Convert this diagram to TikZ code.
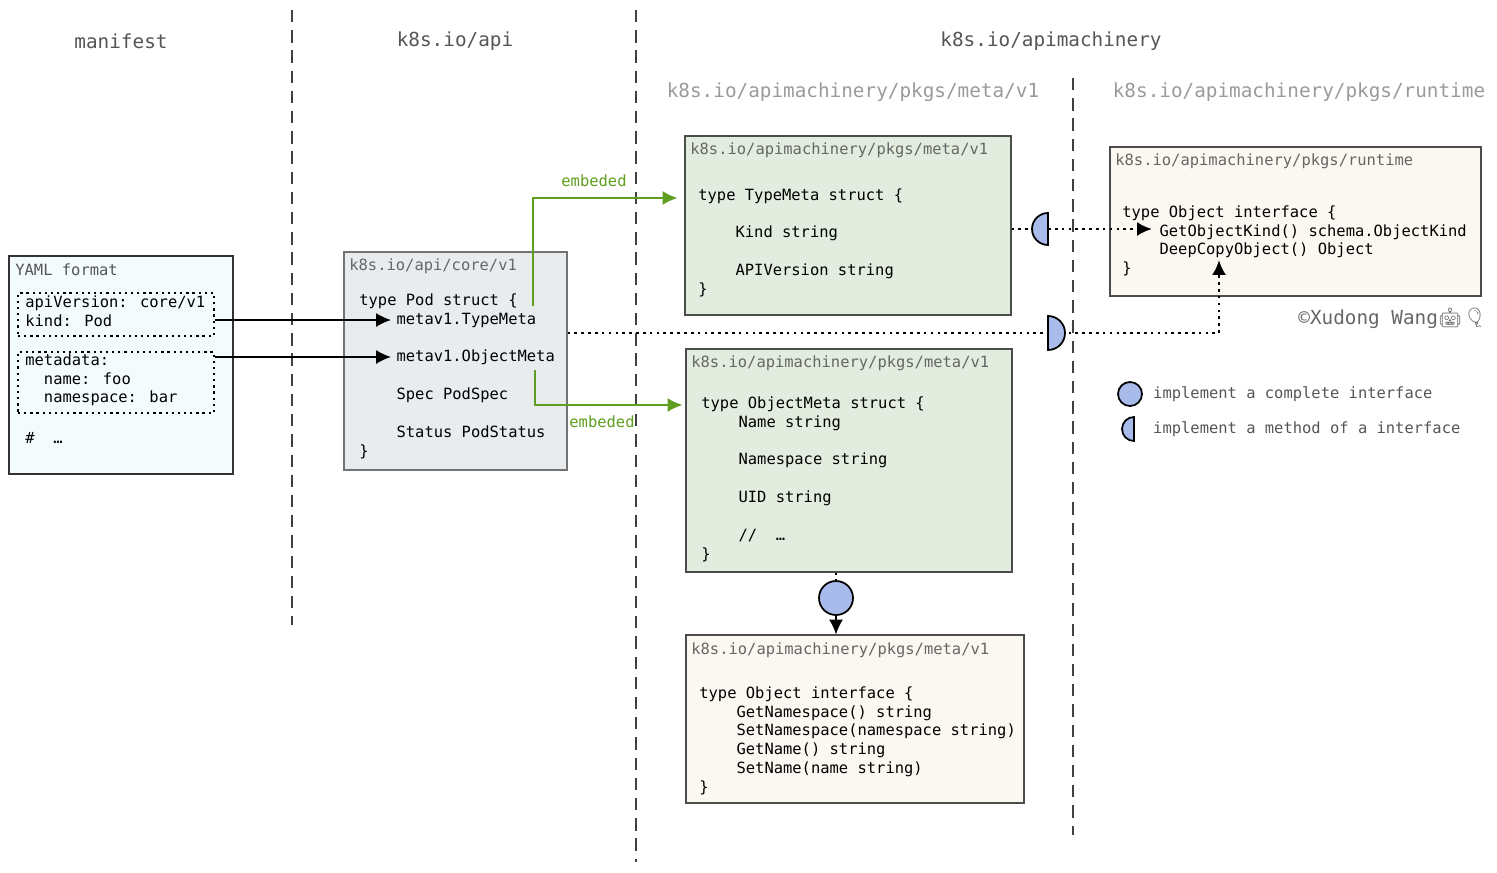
\documentclass[tikz,border=0pt]{standalone}
\usepackage{fontspec}
\setmainfont{DejaVu Sans Mono}
\setmonofont{DejaVu Sans Mono}
\newfontfamily\emoji{Noto Emoji}
\usepackage{tikz}
\usetikzlibrary{fit,positioning,arrows.meta}

\definecolor{yamlfill}{HTML}{F3FBFD}
\definecolor{podfill}{HTML}{E9ECEF}
\definecolor{metafill}{HTML}{E2EDDF}
\definecolor{ifacefill}{HTML}{FAF8F1}
\definecolor{embedgreen}{HTML}{5F9E1E}
\definecolor{dotblue}{HTML}{A9BBEB}
\definecolor{headgray}{HTML}{555555}
\definecolor{subgray}{HTML}{9A9A9A}
\definecolor{titlegray}{HTML}{666666}

\newcommand\px{0.02cm}
\newcommand\gotab{\phantom{0000}}

\tikzset{
	codefont/.style={font=\fontsize{8.8}{10.77}\selectfont},
	code/.style={codefont, anchor=north west, inner sep=0, align=left},
	boxtitle/.style={codefont, anchor=west, inner sep=0, text=titlegray},
	header/.style={inner sep=0, text=headgray, font=\fontsize{11}{13}\selectfont},
	subheader/.style={header, text=subgray},
	box/.style={draw=black!70, line width=0.6pt, inner sep=0},
	dotbox/.style={draw=black, line width=1.3pt, dash pattern=on 1.3pt off 2.2pt, inner sep=0},
	sep/.style={draw=black!75, line width=0.75pt, dash pattern=on 7pt off 4.5pt},
	dotline/.style={line width=1.5pt, dash pattern=on 1.5pt off 2.4pt},
	tip/.style={-{Latex[length=8.5pt,width=8pt]}},
	embed/.style={draw=embedgreen, line width=1.1pt, tip},
	embedlabel/.style={codefont, inner sep=0, text=embedgreen},
	halfdisc/.style={draw=black, line width=1pt, fill=dotblue},
	legend/.style={codefont, anchor=west, inner sep=0, text=headgray}
}

\begin{document}
\begin{tikzpicture}[x=0.02cm,y=-0.02cm]
\useasboundingbox (0,0) rectangle (1497,872);

%columns
\foreach \x/\a/\b in {292/10/625, 636/10/862, 1073/78/835}{
	\draw[sep] (\x,\a) -- (\x,\b);
}
\node[header] (hmanifest) at (121,41) {manifest};
\node[header] (hapi) at (455,41) {k8s.io/api};
\node[header] (hmachinery) at (1051,41) {k8s.io/apimachinery};
\node[subheader] (hmeta) at (853,92) {k8s.io/apimachinery/pkgs/meta/v1};
\node[subheader] (hruntime) at (1299,92) {k8s.io/apimachinery/pkgs/runtime};

%manifest
\node[fit={(9,256) (233,474)}, box, draw=black!80, line width=1.4pt, fill=yamlfill] (yaml) {};
\node[boxtitle, text=headgray] (yamltitle) at (15,270) {YAML format};
\node[fit={(18,293) (214,336)}, dotbox] (ytype) {};
\node[fit={(18,352) (214,413)}, dotbox] (ymeta) {};
\node[code] (ytypetext) at (25,295) {apiVersion: core/v1\\kind: Pod};
\node[code] (ymetatext) at (25,353) {metadata:\\\phantom{00}name: foo\\\phantom{00}namespace: bar};
\node[boxtitle, text=black] (yrest) at (25,438) {\#\ \ \ldots};

%k8s.io/api
\node[fit={(344,252) (567,470)}, box, draw=black!55, fill=podfill] (pod) {};
\node[boxtitle] (podtitle) at (349,266) {k8s.io/api/core/v1};
\node[code] (podtext) at (359,293) {type Pod struct \{\\
\gotab metav1.TypeMeta\\[10.77pt]
\gotab metav1.ObjectMeta\\[10.77pt]
\gotab Spec PodSpec\\[10.77pt]
\gotab Status PodStatus\\
\}};

%k8s.io/apimachinery
\node[fit={(685,136) (1011,315)}, box, fill=metafill] (typemeta) {};
\node[boxtitle] (typemetatitle) at (690,150) {k8s.io/apimachinery/pkgs/meta/v1};
\node[code] (typemetatext) at (698,188) {type TypeMeta struct \{\\[10.77pt]
\gotab Kind string\\[10.77pt]
\gotab APIVersion string\\
\}};

\node[fit={(686,349) (1012,572)}, box, fill=metafill] (objmeta) {};
\node[boxtitle] (objmetatitle) at (691,363) {k8s.io/apimachinery/pkgs/meta/v1};
\node[code] (objmetatext) at (701,396) {type ObjectMeta struct \{\\
\gotab Name string\\[10.77pt]
\gotab Namespace string\\[10.77pt]
\gotab UID string\\[10.77pt]
\gotab //\ \ \ldots\\
\}};

\node[fit={(686,635) (1024,803)}, box, fill=ifacefill] (objiface) {};
\node[boxtitle] (objifacetitle) at (691,650) {k8s.io/apimachinery/pkgs/meta/v1};
\node[code] (objifacetext) at (699,686) {type Object interface \{\\
\gotab GetNamespace() string\\
\gotab SetNamespace(namespace string)\\
\gotab GetName() string\\
\gotab SetName(name string)\\
\}};

\node[fit={(1110,147) (1481,296)}, box, fill=ifacefill] (runtime) {};
\node[boxtitle] (runtimetitle) at (1115,161) {k8s.io/apimachinery/pkgs/runtime};
\node[code] (runtimetext) at (1122,205) {type Object interface \{\\
\gotab GetObjectKind() schema.ObjectKind\\
\gotab DeepCopyObject() Object\\
\}};

\node[header, text=titlegray, anchor=west] (credit) at (1298,318) {©Xudong Wang{\emoji 🤖🎈}};

%field ends
\coordinate (tmfield) at (391,320);
\coordinate (omfield) at (391,357);
\coordinate (tmembed) at (533,306);
\coordinate (omembed) at (535,370);
\coordinate (tmrow) at (0,198);
\coordinate (omrow) at (0,405);
\coordinate (getkind) at (1152,229);
\coordinate (deepcopy) at (1219,260);
\coordinate (tmhalf) at (1048,229);
\coordinate (podhalf) at (1048,333);

%manifest to Pod
\draw[tip, line width=0.9pt] (ytype.east |- tmfield) -- (tmfield);
\draw[tip, line width=0.9pt] (ymeta.east |- omfield) -- (omfield);

%embeded
\draw[embed] (tmembed) |- ([xshift=-7*\px]typemeta.west |- tmrow);
\draw[embed] (omembed) |- ([xshift=-3*\px]objmeta.west |- omrow);
\node[embedlabel] (tmlabel) at (594,181) {embeded};
\node[embedlabel] (omlabel) at (602,422) {embeded};

%interfaces
\draw[dotline] (typemeta.east |- tmhalf) -- (tmhalf);
\draw[dotline, tip] (tmhalf) -- (getkind);
\draw[dotline] (pod.east |- podhalf) -- (podhalf);
\draw[dotline, tip] (podhalf) -| (deepcopy);
\draw[halfdisc] (tmhalf) ++(0,-16) arc (270:90:16) -- cycle;
\draw[halfdisc] (podhalf) ++(0,-17) arc (-90:90:17) -- cycle;

\node[circle, draw, line width=1pt, fill=dotblue, minimum size=34*\px, inner sep=0] (objdot) at (836,598) {};
\draw[dotline] (objmeta.south -| objdot) -- (objdot.north);
\draw[tip, line width=0.9pt] (objdot.south) -- (objdot.south |- objiface.north);

%legend
\node[circle, draw, line width=1pt, fill=dotblue, minimum size=24*\px, inner sep=0] (lgfull) at (1130,394) {};
\node[legend, right=0.2cm of lgfull] (lgtext1) {implement a complete interface};
\coordinate (lghalf) at (1134,429);
\draw[halfdisc] (lghalf) ++(0,-12) arc (270:90:12) -- cycle;
\node[legend] (lgtext2) at (lgtext1.west |- lghalf) {implement a method of a interface};
\end{tikzpicture}
\end{document}
